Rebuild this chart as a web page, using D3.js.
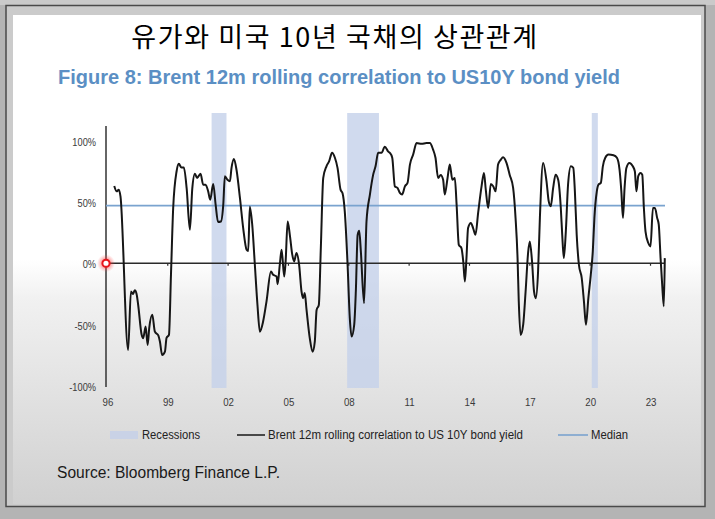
<!DOCTYPE html>
<html>
<head>
<meta charset="utf-8">
<script src="https://cdn.jsdelivr.net/npm/d3@7"></script>
<style>
html,body{margin:0;padding:0;background:#b9b9b9;}
svg{display:block;}
</style>
</head>
<body>
<svg id="chart" width="715" height="519"></svg>
<script>
// ---- data ----
const titleKo = "유가와 미국 10년 국채의 상관관계";
const subtitle = "Figure 8: Brent 12m rolling correlation to US10Y bond yield";
const sourceText = "Source: Bloomberg Finance L.P.";
const seriesName = "Brent 12m rolling correlation to US 10Y bond yield";

const dates = [
1996.34,1996.46,1996.57,1996.65,1997.03,1997.17,1997.27,1997.36,1997.45,1997.53,1997.70,1997.78,1997.90,1998.00,1998.08,1998.23,1998.36,1998.53,1998.61,1998.72,1998.86,1998.94,1999.06,1999.16,1999.27,1999.44,1999.55,1999.68,1999.80,1999.94,
2000.10,2000.22,2000.35,2000.46,2000.63,2000.76,2000.88,2001.01,2001.11,2001.26,2001.38,2001.50,2001.64,2001.76,2001.84,2001.97,2002.09,2002.17,2002.29,2002.42,2002.59,2002.75,2002.92,2003.00,2003.08,2003.20,2003.33,2003.46,2003.58,2003.74,2003.91,
2004.13,2004.24,2004.41,2004.46,2004.57,2004.66,2004.79,2004.86,2004.96,2005.07,2005.19,2005.28,2005.40,2005.53,2005.65,2005.73,2005.81,2005.90,2006.06,2006.20,2006.31,2006.40,2006.51,2006.61,2006.73,2006.89,2007.02,2007.17,2007.31,2007.44,2007.59,2007.69,2007.80,2007.94,
2008.05,2008.14,2008.27,2008.35,2008.44,2008.52,2008.60,2008.76,2008.88,2009.05,2009.21,2009.33,2009.46,2009.63,2009.79,2009.96,2010.04,2010.16,2010.29,2010.42,2010.54,2010.65,2010.79,2010.92,2011.04,2011.20,2011.37,2011.62,2011.86,2012.03,2012.19,2012.31,2012.44,2012.57,2012.69,2012.77,2012.91,
2013.02,2013.15,2013.27,2013.36,2013.47,2013.60,2013.69,2013.77,2013.85,2013.93,2014.07,2014.18,2014.30,2014.43,2014.60,2014.72,2014.81,2014.93,2015.06,2015.18,2015.30,2015.42,2015.56,2015.67,2015.84,2016.00,2016.17,2016.29,2016.39,2016.45,2016.54,2016.67,2016.79,2016.92,
2017.00,2017.11,2017.21,2017.30,2017.41,2017.50,2017.66,2017.83,2017.94,2018.04,2018.16,2018.28,2018.41,2018.54,2018.61,2018.69,2018.79,2018.90,2019.04,2019.16,2019.24,2019.33,2019.44,2019.58,2019.69,2019.79,2019.91,
2020.03,2020.13,2020.21,2020.33,2020.41,2020.53,2020.63,2020.75,2020.91,2021.16,2021.33,2021.46,2021.55,2021.63,2021.71,2021.80,2021.95,2022.12,2022.22,2022.30,2022.39,2022.50,2022.59,2022.67,2022.75,2022.89,2023.00,2023.12,2023.22,2023.33,2023.41,2023.50,2023.58,2023.66,2023.71
];
const corr = [
63,58.6,60,54.5,-70.6,-23,-25,-22,-25,-34,-58,-61,-51.6,-66.5,-52.7,-42,-55.7,-58.8,-63.8,-74.7,-72,-60.8,-58.4,-9.4,45,75,81,78,78,61,
27.3,61,73,69.5,73,64,64,58.6,51.8,64.6,47.8,33.6,34,47.8,71,68,66.8,77.7,85,76,53,28.7,11,10,46,31.4,-1.2,-34,-55.7,-47.5,-31,
-6.7,-9.4,-10.7,-17,-1.2,11,-10.8,1.5,34,23,7,1.5,8.3,-1.2,-23,-28.4,-24.3,-38,-61,-72,-63.8,-38,-34,12.4,69.5,79,83,90,86,77.7,60,57,42.3,-1.2,
-44.7,-59.7,-50,-23,23,26.5,9.6,-32.5,34,56,72,79,90,90,95,91,90,86,62.7,61.4,57.3,56,62.7,65.5,80.4,88.6,98,97.3,98,98,92.6,86,69.5,72,68,56,69.5,
80.4,68,69.5,47.8,15,12.4,1.5,-14.8,4.2,28.7,32.8,28.7,23.3,41,62.7,73.6,60,45,64.6,62.7,58.6,80.4,84.5,86.4,81.8,72,61.4,37,4.2,-31,-58.4,-50,-23,9.6,
17.8,1.5,-23,-28.4,-6.7,37,81.8,66.8,50.4,46.4,61.4,72.2,68,45,23.3,4.2,26,64,79,77.7,58.6,23.3,-1.2,-12,-31,-50,-28.4,
-9.4,9.6,37,58.6,64,65.5,79,86,88.6,88,86,76.3,58.6,37,61.4,77.7,81.8,79,75,58.6,71,73.6,72.2,45,26,16.5,13.7,45,45,37,31.4,4.2,-17.5,-35,4.2
];
const medianValue = 47;
const recessionStart = [2001.18, 2007.92, 2020.08];
const recessionEnd   = [2001.92, 2009.50, 2020.38];
const yTicks = [100, 50, 0, -50, -100];
const xTickYears = [1996, 1999, 2002, 2005, 2008, 2011, 2014, 2017, 2020, 2023];

// ---- drawing ----
const svg = d3.select("#chart");
const W = 715, H = 519;
const narrow = "'Liberation Sans Narrow','Arial Narrow','Liberation Sans',Arial,sans-serif";

function condense(sel, k) {
  sel.each(function(){
    const w = this.getComputedTextLength();
    d3.select(this).attr("textLength", w*k).attr("lengthAdjust","spacingAndGlyphs");
  });
}

const defs = svg.append("defs");
const bg = defs.append("linearGradient").attr("id","panelGrad").attr("x1",0).attr("y1",0).attr("x2",0).attr("y2",1);
bg.append("stop").attr("offset","0%").attr("stop-color","#ffffff");
bg.append("stop").attr("offset","50%").attr("stop-color","#ffffff");
bg.append("stop").attr("offset","58%").attr("stop-color","#f1f1f1");
bg.append("stop").attr("offset","100%").attr("stop-color","#d0d0d0");
const glow = defs.append("radialGradient").attr("id","redGlow");
glow.append("stop").attr("offset","0%").attr("stop-color","#ff2020").attr("stop-opacity",0.8);
glow.append("stop").attr("offset","60%").attr("stop-color","#ff4040").attr("stop-opacity",0.35);
glow.append("stop").attr("offset","100%").attr("stop-color","#ff6060").attr("stop-opacity",0);

// frame
svg.append("rect").attr("x",0).attr("y",0).attr("width",W).attr("height",H).attr("fill","#b4b4b4");
svg.append("rect").attr("x",0).attr("y",0).attr("width",W).attr("height",5).attr("fill","#cacaca");
svg.append("rect").attr("x",6).attr("y",5.5).attr("width",699).attr("height",501)
  .attr("fill","#cbcbcb").attr("stroke","#4a4a4a").attr("stroke-width",1.5);
svg.append("rect").attr("x",13).attr("y",15).attr("width",688).attr("height",489).attr("fill","url(#panelGrad)");

// titles
svg.append("text").attr("x",335).attr("y",47).attr("text-anchor","middle")
  .attr("font-family","'Noto Sans CJK KR','Noto Sans CJK SC',sans-serif").attr("font-size",27)
  .attr("letter-spacing",1.6).attr("fill","#000").text(titleKo);
svg.append("text").attr("x",58).attr("y",84)
  .attr("font-family",narrow).attr("font-weight","bold").attr("font-size",21)
  .attr("fill","#5b8fc4").attr("textLength",562).attr("lengthAdjust","spacingAndGlyphs").text(subtitle);

// scales
const x = d3.scaleLinear().domain([1995.93, 2023.72]).range([106, 665]);
const y = d3.scaleLinear().domain([-100, 120]).range([386, 116]);

// recessions
const rec = recessionStart.map((s,i)=>({s, e: recessionEnd[i]}));
svg.append("g").selectAll("rect").data(rec).join("rect")
  .attr("x", d=>x(d.s)).attr("width", d=>x(d.e)-x(d.s))
  .attr("y", 113).attr("height", 388-113)
  .attr("fill","#c4d1ea").attr("opacity",0.8);

// y axis labels
const yAxis = d3.axisLeft(y).tickValues(yTicks).tickSize(0).tickPadding(10).tickFormat(d=>d+"%");
const gy = svg.append("g").attr("transform","translate(106,1)").call(yAxis);
gy.select(".domain").remove();
gy.selectAll("text").attr("font-family",narrow).attr("font-size",11).attr("fill","#3a3a3a").call(condense, 0.84);

// y axis line
svg.append("line").attr("x1",106).attr("x2",106).attr("y1",126).attr("y2",y(-100)+1)
  .attr("stroke","#333").attr("stroke-width",1.5);

// x axis labels
const xAxis = d3.axisBottom(x).tickValues(xTickYears).tickSize(0).tickPadding(0)
  .tickFormat(d=>String(d%100).padStart(2,"0"));
const gx = svg.append("g").attr("transform","translate(0,398)").call(xAxis);
gx.select(".domain").remove();
gx.selectAll("text").attr("font-family",narrow).attr("font-size",11).attr("fill","#3a3a3a").call(condense, 0.88);

// median line
svg.append("line").attr("x1",106).attr("x2",665).attr("y1",y(medianValue)).attr("y2",y(medianValue))
  .attr("stroke","#7aa3cf").attr("stroke-width",1.6);

// zero line with small ticks
svg.append("line").attr("x1",106).attr("x2",665).attr("y1",y(0)).attr("y2",y(0))
  .attr("stroke","#2a2a2a").attr("stroke-width",1.5);
svg.append("g").selectAll("line").data(xTickYears.slice(1)).join("line")
  .attr("x1",d=>x(d)).attr("x2",d=>x(d)).attr("y1",y(0)).attr("y2",y(0)+2.5)
  .attr("stroke","#2a2a2a").attr("stroke-width",1.2);

// series
const pts = dates.map((d,i)=>[d, corr[i]]);
const line = d3.line().x(d=>x(d[0])).y(d=>y(d[1])).curve(d3.curveMonotoneX);
svg.append("path").datum(pts).attr("d",line).attr("fill","none")
  .attr("stroke","#161616").attr("stroke-width",2).attr("stroke-linejoin","round");

// red cursor marker
svg.append("circle").attr("cx",106).attr("cy",y(0)).attr("r",9).attr("fill","url(#redGlow)");
svg.append("circle").attr("cx",106).attr("cy",y(0)).attr("r",3.6).attr("fill","#fff").attr("stroke","#e8141a").attr("stroke-width",2);

// legend
const ly = 435;
svg.append("rect").attr("x",110).attr("y",ly-4).attr("width",28).attr("height",8).attr("fill","#c9d2e6");
svg.append("text").attr("x",142).attr("y",ly+4).attr("font-family",narrow).attr("font-size",12)
  .attr("fill","#222").attr("textLength",58).attr("lengthAdjust","spacingAndGlyphs").text("Recessions");
svg.append("line").attr("x1",237).attr("x2",265).attr("y1",ly).attr("y2",ly).attr("stroke","#222").attr("stroke-width",1.6);
svg.append("text").attr("x",268).attr("y",ly+4).attr("font-family",narrow).attr("font-size",12)
  .attr("fill","#222").attr("textLength",255).attr("lengthAdjust","spacingAndGlyphs").text(seriesName);
svg.append("line").attr("x1",558).attr("x2",588).attr("y1",ly).attr("y2",ly).attr("stroke","#7aa3cf").attr("stroke-width",1.6);
svg.append("text").attr("x",591).attr("y",ly+4).attr("font-family",narrow).attr("font-size",12)
  .attr("fill","#222").attr("textLength",37).attr("lengthAdjust","spacingAndGlyphs").text("Median");

// source
svg.append("text").attr("x",57).attr("y",478).attr("font-family",narrow).attr("font-size",16)
  .attr("fill","#1a1a1a").attr("textLength",223).attr("lengthAdjust","spacingAndGlyphs").text(sourceText);
</script>
</body>
</html>
